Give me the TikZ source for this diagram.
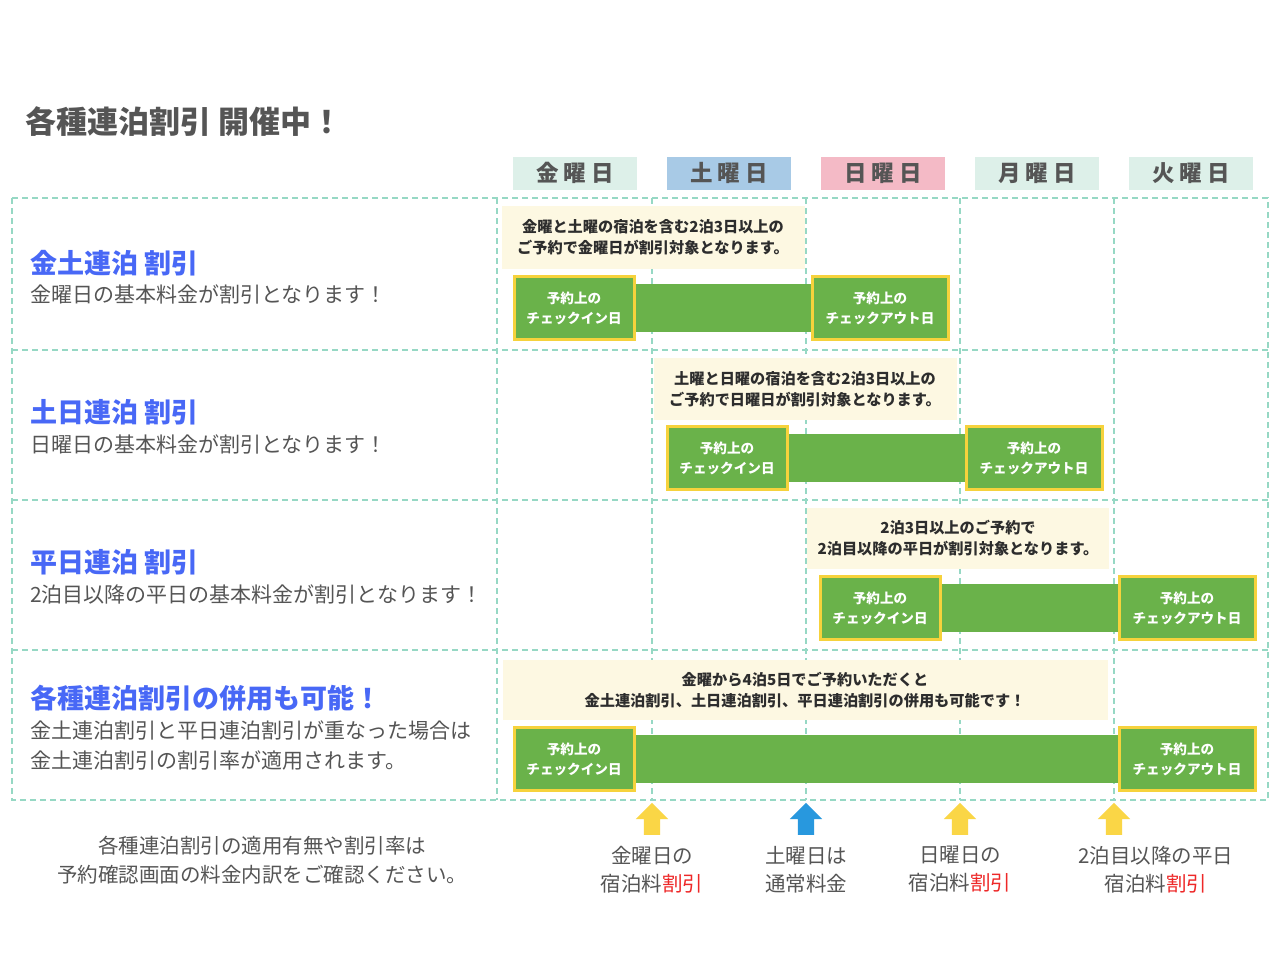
\documentclass[tikz,border=0pt]{standalone}
\usepackage{fontspec}
\setmainfont{Noto Sans CJK JP}
\usetikzlibrary{positioning,shapes.arrows,backgrounds}
\definecolor{txtgray}{RGB}{85,85,85}
\definecolor{notetxt}{RGB}{45,45,45}
\definecolor{headblue}{RGB}{72,104,246}
\definecolor{gridmint}{RGB}{150,216,196}
\definecolor{daymint}{RGB}{221,240,233}
\definecolor{dayblue}{RGB}{168,202,230}
\definecolor{daypink}{RGB}{244,186,198}
\definecolor{notecream}{RGB}{253,248,226}
\definecolor{staygreen}{RGB}{106,178,74}
\definecolor{boxyellow}{RGB}{246,210,60}
\definecolor{arrowyellow}{RGB}{250,214,70}
\definecolor{arrowblue}{RGB}{40,152,222}
\definecolor{redtxt}{RGB}{238,40,40}
\begin{document}
\begin{tikzpicture}[x=1pt, y=-1pt,
    daybox/.style = {minimum width=124pt, minimum height=33pt, inner sep=0pt,
      text=txtgray, font=\fontsize{22.5}{22.5}\selectfont\bfseries},
    notebox/.style = {fill=notecream, align=center, inner sep=0pt,
      text=notetxt, font=\fontsize{15.2}{21}\selectfont\bfseries},
    stayday/.style = {draw=boxyellow, line width=3pt, fill=staygreen,
      text=white, align=center, minimum height=63pt, inner sep=0pt,
      font=\fontsize{13.6}{20}\selectfont\bfseries},
    staybar/.style = {fill=staygreen},
    headtxt/.style = {anchor=base west, inner sep=0pt, text=headblue,
      font=\fontsize{27}{27}\selectfont\bfseries},
    subtxt/.style = {anchor=north west, inner sep=0pt, align=left,
      text=txtgray, font=\fontsize{21}{30}\selectfont},
    gridline/.style = {draw=gridmint, line width=2pt, dash pattern=on 6pt off 4pt},
    uparrow/.style = {single arrow, shape border rotate=90, inner sep=8pt,
      minimum height=32pt, single arrow head extend=8pt,
      single arrow head indent=0pt},
    ratetxt/.style = {align=center, inner sep=0pt, text=txtgray,
      font=\fontsize{20.5}{28}\selectfont}]

  \useasboundingbox (0,0) rectangle (1280,958);

  % title
  \node[anchor=base west, inner sep=0pt, text=txtgray,
    font=\fontsize{31}{31}\selectfont\bfseries] (title) at (25,133) {各種連泊割引 開催中！};

  % day headers
  \node[daybox, fill=daymint] (fri) at (575,173) {金 曜 日};
  \node[daybox, fill=dayblue] (sat) at (729,173) {土 曜 日};
  \node[daybox, fill=daypink] (sun) at (883,173) {日 曜 日};
  \node[daybox, fill=daymint] (mon) at (1037,173) {月 曜 日};
  \node[daybox, fill=daymint] (tue) at (1191,173) {火 曜 日};

  % page and grid
  \begin{scope}[on background layer]
    \fill[white] (0,0) rectangle (1280,958);
    \draw[gridline] (12,198) rectangle (1268,800);
    \foreach \y in {350,500,650}
      \draw[gridline] (12,\y) -- (1268,\y);
    \foreach \x in {497,652,806,960,1114}
      \draw[gridline] (\x,198) -- (\x,800);
  \end{scope}

  % left column
  \node[headtxt] (h1) at (30,273) {金土連泊 割引};
  \node[subtxt] (s1) at (30,285) {金曜日の基本料金が割引となります！};
  \node[headtxt] (h2) at (30,422) {土日連泊 割引};
  \node[subtxt] (s2) at (30,435) {日曜日の基本料金が割引となります！};
  \node[headtxt] (h3) at (30,572) {平日連泊 割引};
  \node[subtxt] (s3) at (30,585) {2泊目以降の平日の基本料金が割引となります！};
  \node[headtxt] (h4) at (30,708) {各種連泊割引の併用も可能！};
  \node[subtxt] (s4) at (30,721) {金土連泊割引と平日連泊割引が重なった場合は\\金土連泊割引の割引率が適用されます。};

  % notes
  \node[notebox, minimum width=303pt, minimum height=63pt] (n1) at (653,237)
    {金曜と土曜の宿泊を含む2泊3日以上の\\ご予約で金曜日が割引対象となります。};
  \node[notebox, minimum width=303pt, minimum height=62pt] (n2) at (805,389)
    {土曜と日曜の宿泊を含む2泊3日以上の\\ご予約で日曜日が割引対象となります。};
  \node[notebox, minimum width=302pt, minimum height=61pt] (n3) at (958,538)
    {2泊3日以上のご予約で\\2泊目以降の平日が割引対象となります。};
  \node[notebox, minimum width=605pt, minimum height=60pt] (n4) at (805,690)
    {金曜から4泊5日でご予約いただくと\\金土連泊割引、土日連泊割引、平日連泊割引の併用も可能です！};

  % stays
  \foreach \r/\xi/\xo/\y in {1/574/880/308, 2/727/1034/458, 3/880/1187/608, 4/574/1187/759} {
    \node[stayday, minimum width=120pt] (in\r) at (\xi,\y) {予約上の\\チェックイン日};
    \node[stayday, minimum width=136pt] (out\r) at (\xo,\y) {予約上の\\チェックアウト日};
    \begin{scope}[on background layer]
      \fill[staybar] ([yshift=24pt]in\r.east) rectangle ([yshift=-24pt]out\r.west);
    \end{scope}
  }

  % arrows and rates
  \node[uparrow, fill=arrowyellow] (a1) at (652,823) {};
  \node[uparrow, fill=arrowblue] (a2) at (806,823) {};
  \node[uparrow, fill=arrowyellow] (a3) at (960,823) {};
  \node[uparrow, fill=arrowyellow] (a4) at (1114,823) {};
  \node[ratetxt, below=11pt of a1] (r1) {金曜日の\\宿泊料\textcolor{redtxt}{割引}};
  \node[ratetxt, below=11pt of a2] (r2) {土曜日は\\通常料金};
  \node[ratetxt, below=11pt of a3] (r3) {日曜日の\\宿泊料\textcolor{redtxt}{割引}};
  \node[ratetxt, below=11pt of a4, xshift=42pt] (r4) {2泊目以降の平日\\宿泊料\textcolor{redtxt}{割引}};

  % footnote
  \node[align=center, inner sep=0pt, text=txtgray, font=\fontsize{20.5}{29}\selectfont] (foot) at (262,860)
    {各種連泊割引の適用有無や割引率は\\予約確認画面の料金内訳をご確認ください。};
\end{tikzpicture}
\end{document}
